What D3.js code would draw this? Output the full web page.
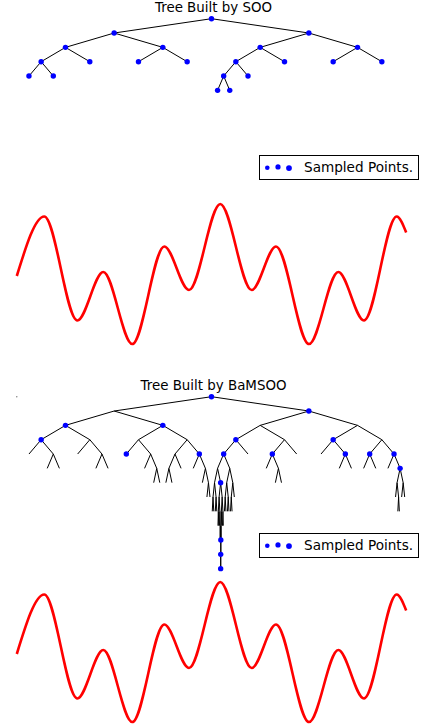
<!DOCTYPE html>
<html>
<head>
<meta charset="utf-8">
<script src="https://cdn.jsdelivr.net/npm/d3@7"></script>
<style>
  html, body { margin: 0; padding: 0; background: #fff; }
  svg { display: block; }
  text { font-family: "DejaVu Sans", sans-serif; }
</style>
</head>
<body>
<svg id="chart" width="424" height="727"></svg>
<script>
// ---------------- data ----------------
const panelTitles = ["Tree Built by SOO", "Tree Built by BaMSOO"];
const legendLabel = "Sampled Points.";

// objective function (x in [0,1])
const curveX = [0.000, 0.0706, 0.1554, 0.2221, 0.2966, 0.3788, 0.4422, 0.5225, 0.6032, 0.6656, 0.7504, 0.8256, 0.8916, 0.9756, 1.000];
const curveY = [0.08, 1.27, -0.81, 0.16, -1.28, 0.67, -0.20, 1.52, -0.20, 0.67, -1.28, 0.16, -0.81, 1.27, 0.95];

// tree nodes as binary paths ("" = root, "0" = left half, "1" = right half ...)
const sooNodes = ["", "0", "1", "00", "01", "10", "11",
  "000", "001", "010", "011", "100", "101", "110", "111",
  "0000", "0001", "1000", "1001", "10000", "10001"];
const sooSampled = sooNodes.slice();

const bamsooNodes = ["", "0", "1", "00", "01", "10", "11",
  "000", "001", "010", "011", "100", "101", "110", "111",
  "0000", "0001", "0010", "0011", "0100", "0101", "0110", "0111",
  "1000", "1001", "1010", "1011", "1100", "1101", "1110", "1111",
  "00010", "00011", "00110", "00111", "01010", "01011", "01100", "01101", "01110", "01111",
  "10000", "10001", "10100", "10101", "11010", "11011", "11100", "11101", "11110", "11111",
  "010110", "010111", "011000", "011001", "011110", "011111",
  "100000", "100001", "100010", "100011", "101010", "101011", "111110", "111111",
  "0111110", "0111111", "1000000", "1000001", "1000010", "1000011",
  "1000100", "1000101", "1000110", "1000111", "1111100", "1111101", "1111110", "1111111",
  "10000000", "10000001", "10000010", "10000011", "10000100", "10000101", "10000110", "10000111",
  "10001000", "10001001", "10001010", "10001011", "10001100", "10001101", "11111010", "11111011",
  "100001000", "100001001", "100001010", "100001011", "100001100", "100001101", "100001110", "100001111",
  "1000010110", "1000010111", "1000011000", "1000011001",
  "10000110000", "10000110001",
  "100001100000", "100001100001"];
const bamsooSampled = ["", "1", "00", "01", "000", "100", "110",
  "0100", "0111", "1000", "1010", "1101", "1110", "1111",
  "11111", "100001", "1000011000", "10000110000", "100001100000"];

// ---------------- drawing ----------------
const svg = d3.select("#chart");
const x = d3.scaleLinear().domain([0, 1]).range([16.8, 406.2]);

function cellCenter(p) {
  if (p.length === 0) return 0.5;
  const idx = parseInt(p, 2);
  return (idx + 0.5) / Math.pow(2, p.length);
}

function drawPanel(oy, title, nodes, sampled, strayDot) {
  const g = svg.append("g");
  const depth = d3.scaleLinear().domain([0, 12]).range([18.7 + oy, 18.7 + 12 * 14.33 + oy]);
  const y = d3.scaleLinear().domain([-1.28, 1.52]).range([344 + oy, 204 + oy]);

  g.append("text")
    .attr("x", 213.5).attr("y", 11.8 + oy)
    .attr("text-anchor", "middle")
    .attr("font-size", 13.4)
    .attr("fill", "#000")
    .text(title);

  const set = new Set(nodes);
  const edges = nodes.filter(p => p.length > 0 && set.has(p.slice(0, -1)));
  g.append("g").selectAll("line").data(edges).join("line")
    .attr("x1", p => x(cellCenter(p.slice(0, -1))))
    .attr("y1", p => depth(p.length - 1))
    .attr("x2", p => x(cellCenter(p)))
    .attr("y2", p => depth(p.length))
    .attr("stroke", "#000").attr("stroke-width", 1);

  g.append("g").selectAll("circle").data(sampled).join("circle")
    .attr("cx", p => x(cellCenter(p)))
    .attr("cy", p => depth(p.length))
    .attr("r", 2.7)
    .attr("fill", "#0000ff");

  if (strayDot) {
    g.append("circle").attr("cx", x(0)).attr("cy", depth(0)).attr("r", 0.7).attr("fill", "#777");
  }

  // legend
  const lg = g.append("g");
  lg.append("rect").attr("x", 259.5).attr("y", 155.5 + oy).attr("width", 159).attr("height", 24)
    .attr("fill", "#fff").attr("stroke", "#000").attr("stroke-width", 1);
  const lx = [267.3, 278, 289], ly = [167.8, 166.9, 168.1], lr = [2.3, 2.6, 2.9];
  lx.forEach((v, i) => lg.append("circle").attr("cx", v).attr("cy", ly[i] + oy).attr("r", lr[i]).attr("fill", "#0000ff"));
  lg.append("text").attr("x", 304).attr("y", 171.5 + oy).attr("font-size", 13.6).attr("fill", "#000").text(legendLabel);

  // objective curve
  const pts = curveX.map((v, i) => [v, curveY[i]]);
  g.append("path").datum(pts)
    .attr("d", d3.line().x(d => x(d[0])).y(d => y(d[1])).curve(d3.curveMonotoneX))
    .attr("fill", "none").attr("stroke", "#ff0000").attr("stroke-width", 2.6);
}

drawPanel(0, panelTitles[0], sooNodes, sooSampled, false);
drawPanel(378, panelTitles[1], bamsooNodes, bamsooSampled, true);
</script>
</body>
</html>
